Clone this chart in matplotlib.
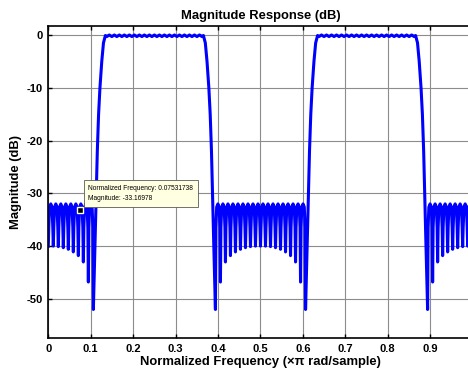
import numpy as np
import matplotlib
matplotlib.use("Agg")
import matplotlib.pyplot as plt

plt.rcParams['font.family'] = ['Liberation Sans', 'DejaVu Sans']
plt.rcParams['axes.unicode_minus'] = False

# values (one quarter period, the rest is mirrored)
lobe_spacing = 0.0118          # distance between stopband nulls
stop_peak_db = -32.0           # stopband ripple tops
stop_shoulder_db = -32.6       # just below the rounded tops
stop_knee_db = -36.5           # where the solid band ends and the spikes begin
stop_null_db = [-40.0, -40.0, -40.1, -40.3, -40.6, -41.1, -41.8, -43.0, -46.8, -52.0]
edge_f = [0.1100, 0.1125, 0.1155, 0.1185, 0.1217, 0.1260, 0.1300, 0.1345]
edge_db = [-40.0, -32.0, -22.0, -15.0, -10.0, -5.0, -1.5, -0.1]
pass_peak_db = 0.0
pass_trough_db = -0.3

tip_freq = 0.07531738
tip_mag = -33.16978

xticks = [0, 0.1, 0.2, 0.3, 0.4, 0.5, 0.6, 0.7, 0.8, 0.9]
yticks = [-50, -40, -30, -20, -10, 0]

# build 0 .. 0.25
s = lobe_spacing
f_q, m_q = [], []
for k, nd in enumerate(stop_null_db):
    if k > 0:
        f_q.append(k * s - 0.1 * s); m_q.append(stop_knee_db)
    f_q.append(k * s); m_q.append(nd)
    if k < len(stop_null_db) - 1:
        c = (k + 0.5) * s
        f_q += [k * s + 0.1 * s, c - 0.25 * s, c, c + 0.25 * s]
        m_q += [stop_knee_db, stop_shoulder_db, stop_peak_db, stop_shoulder_db]
f_q += edge_f
m_q += edge_db
p = 0.25
pk = []
while p > edge_f[-1] + 0.002:
    pk.append(p)
    p -= s / 2
for i, pf in enumerate(pk[::-1]):
    f_q.append(pf)
    m_q.append(pass_peak_db if (len(pk) - 1 - i) % 2 == 0 else pass_trough_db)

f_q = np.array(f_q); m_q = np.array(m_q)
f_half = np.concatenate([f_q, 0.5 - f_q[::-1][1:]])
m_half = np.concatenate([m_q, m_q[::-1][1:]])
freq = np.concatenate([f_half, 0.5 + f_half[1:]])
mag = np.concatenate([m_half, m_half[1:]])

fig = plt.figure(figsize=(4.68, 3.72), dpi=100)
ax = fig.add_axes([0.1032, 0.0914, 0.9068, 0.8387])
ax.plot(freq, mag, color=(0, 0, 1), lw=2.2, solid_joinstyle='round')

ax.set_xlim(0, 1)
ax.set_ylim(-57.4, 1.7)
ax.set_xticks(xticks)
ax.set_xticklabels([f"{t:g}" for t in xticks])
ax.set_yticks(yticks)
ax.grid(True, color='0.55', lw=0.8)
ax.tick_params(direction='in', length=3, width=1, top=True, right=True,
               labelsize=8, pad=4)
for lab in ax.get_xticklabels() + ax.get_yticklabels():
    lab.set_fontweight('bold')
for sp in ax.spines.values():
    sp.set_linewidth(1.2)

ax.set_title("Magnitude Response (dB)", fontsize=9.4, fontweight='bold', pad=5)
ax.set_xlabel("Normalized Frequency (\u00d7\u03c0 rad/sample)", fontsize=9.4,
              fontweight='bold', labelpad=1.5)
ax.set_ylabel("Magnitude (dB)", fontsize=9.4, fontweight='bold', labelpad=3)

# data tip
ax.plot([tip_freq], [tip_mag], marker='s', ms=5, color='black',
        mec='white', mew=1, zorder=5)
ax.annotate(f"Normalized Frequency: {tip_freq:.8f}\nMagnitude: {tip_mag:.5f}",
            xy=(tip_freq, tip_mag), xytext=(8, 8), textcoords='offset pixels',
            fontsize=4.8, ha='left', va='bottom', linespacing=1.7,
            bbox=dict(boxstyle='square,pad=0.7', fc='#ffffe1', ec='0.35', lw=0.6),
            zorder=6)

fig.savefig("out.png", dpi=100)
